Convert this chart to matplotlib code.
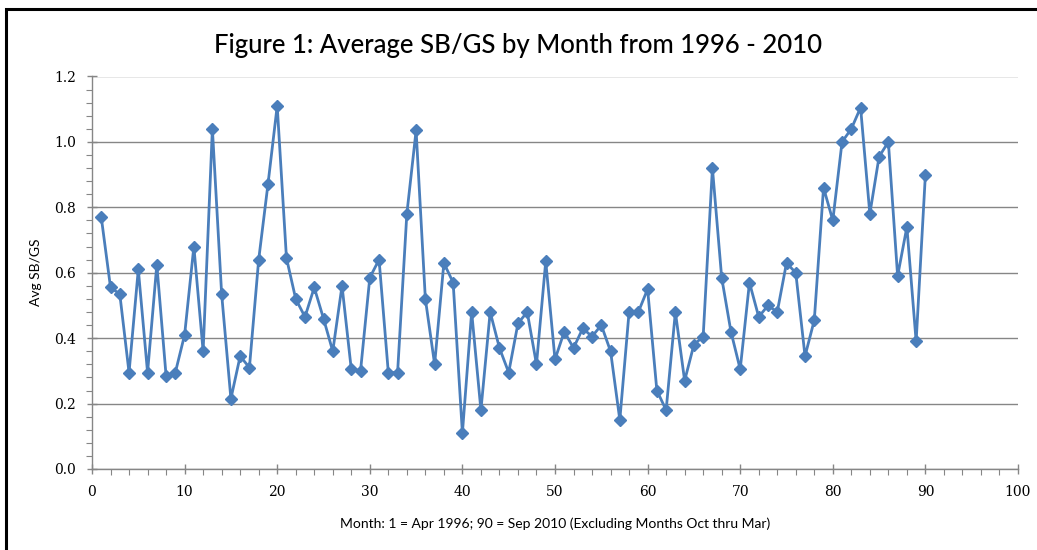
import matplotlib
matplotlib.use("Agg")
import matplotlib.pyplot as plt
from matplotlib.ticker import MultipleLocator
from matplotlib.patches import Rectangle

months = list(range(1, 91))
avg_sb_gs = [
    0.77, 0.555, 0.535, 0.295, 0.61, 0.295, 0.625, 0.285, 0.295, 0.41,
    0.68, 0.36, 1.04, 0.535, 0.215, 0.345, 0.31, 0.64, 0.87, 1.11,
    0.645, 0.52, 0.465, 0.555, 0.46, 0.36, 0.56, 0.305, 0.30, 0.585,
    0.64, 0.295, 0.295, 0.78, 1.035, 0.52, 0.32, 0.63, 0.57, 0.11,
    0.48, 0.18, 0.48, 0.37, 0.295, 0.445, 0.48, 0.32, 0.635, 0.335,
    0.42, 0.37, 0.43, 0.405, 0.44, 0.36, 0.15, 0.48, 0.48, 0.55,
    0.24, 0.18, 0.48, 0.27, 0.38, 0.405, 0.92, 0.585, 0.42, 0.305,
    0.57, 0.465, 0.50, 0.48, 0.63, 0.60, 0.345, 0.455, 0.86, 0.76,
    1.00, 1.04, 1.105, 0.78, 0.955, 1.00, 0.59, 0.74, 0.39, 0.90,
]
title = "Figure 1: Average SB/GS by Month from 1996 - 2010"
xlabel = "Month: 1 = Apr 1996; 90 = Sep 2010 (Excluding Months Oct thru Mar)"
ylabel = "Avg SB/GS"

fig = plt.figure(figsize=(10.37, 5.5), dpi=100)
ax = fig.add_axes([92/1037, 1-469/550, (1018-92)/1037, (469-76.5)/550])

line_color = "#4A7EBB"
ax.plot(months, avg_sb_gs, color=line_color, lw=2.0, marker="D",
        markersize=6.5, markerfacecolor=line_color, markeredgecolor=line_color,
        zorder=3, clip_on=False)

ax.set_xlim(0, 100)
ax.set_ylim(0, 1.2)
ax.xaxis.set_major_locator(MultipleLocator(10))
ax.xaxis.set_minor_locator(MultipleLocator(2))
ax.yaxis.set_major_locator(MultipleLocator(0.2))
ax.yaxis.set_minor_locator(MultipleLocator(0.04))
ax.yaxis.set_major_formatter(matplotlib.ticker.FormatStrFormatter("%.1f"))

gray = "#868686"
ax.grid(axis="y", which="major", color=gray, lw=1.0, zorder=0)
ax.set_axisbelow(True)
for s in ["top", "right"]:
    ax.spines[s].set_visible(False)
for s in ["left", "bottom"]:
    ax.spines[s].set_color(gray)
    ax.spines[s].set_linewidth(1.0)

ax.tick_params(axis="both", which="major", direction="inout", length=7,
               color=gray, width=1.0, labelsize=10, pad=8)
ax.tick_params(axis="both", which="minor", direction="out", length=4,
               color=gray, width=0.8)
for lab in ax.get_xticklabels() + ax.get_yticklabels():
    lab.set_family("DejaVu Serif")

ax.set_xlabel(xlabel, family="Lato", fontsize=10, labelpad=13)
ax.set_ylabel(ylabel, family="Lato", fontsize=10, labelpad=9)
fig.text(0.5, 1-45/550, title, family="Lato", fontsize=18.5,
         fontweight="medium", ha="center", va="center")

fig.patches.append(Rectangle((6/1037, -0.05), 1.2, 1-9/550+0.05,
                             transform=fig.transFigure, fill=False,
                             edgecolor="black", lw=2.2))

fig.savefig("out.png", dpi=100)
